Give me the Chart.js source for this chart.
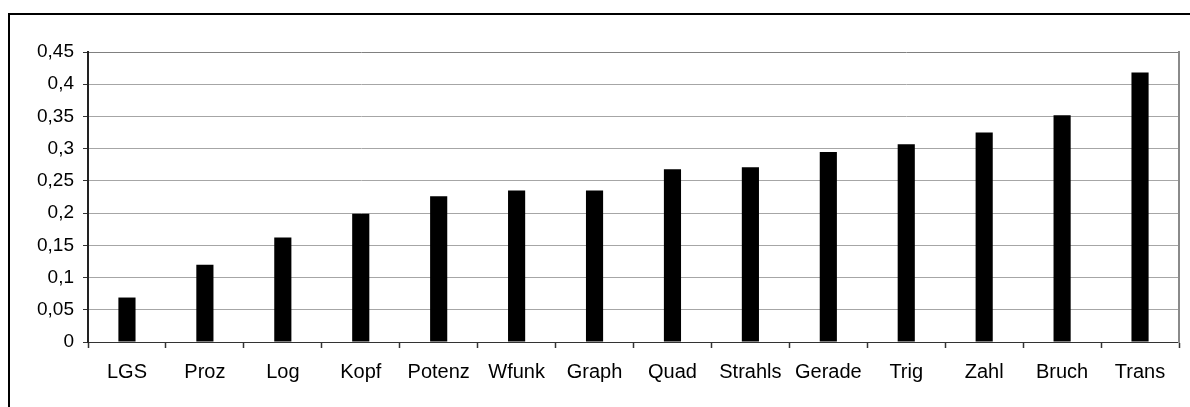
<!DOCTYPE html>
<html>
<head>
<meta charset="utf-8">
<script src="https://cdn.jsdelivr.net/npm/chart.js@4/dist/chart.umd.min.js"></script>
<style>
  html, body { margin: 0; padding: 0; background: #fff; overflow: hidden; }
  #wrap { position: relative; width: 1190px; height: 407px; overflow: hidden; }
  #frame {
    position: absolute; left: 8px; top: 13px; width: 1400px; height: 600px;
    border-left: 2px solid #000; border-top: 2px solid #000;
    pointer-events: none;
  }
  canvas { position: absolute; left: 0; top: 0; }
</style>
</head>
<body>
<div id="wrap">
  <canvas id="c" width="1190" height="407"></canvas>
  <div id="frame"></div>
</div>
<script>
// Topics, sorted by value
const categories = ['LGS', 'Proz', 'Log', 'Kopf', 'Potenz', 'Wfunk', 'Graph', 'Quad',
                    'Strahls', 'Gerade', 'Trig', 'Zahl', 'Bruch', 'Trans'];
const values = [0.069, 0.12, 0.162, 0.199, 0.226, 0.235, 0.235, 0.268,
                0.271, 0.295, 0.307, 0.325, 0.352, 0.418];
const yTickLabels = ['0', '0,05', '0,1', '0,15', '0,2', '0,25', '0,3', '0,35', '0,4', '0,45'];

const FONT = '"Liberation Sans", Arial, sans-serif';

new Chart(document.getElementById('c'), {
  type: 'bar',
  data: {
    labels: categories,
    datasets: [{
      data: values,
      backgroundColor: '#000',
      borderWidth: 0,
      barPercentage: 0.22,
      categoryPercentage: 1.0
    }]
  },
  options: {
    responsive: false,
    animation: false,
    events: [],
    layout: { padding: { left: 0, top: 52, right: 11, bottom: 0 } },
    plugins: { legend: { display: false }, tooltip: { enabled: false } },
    scales: {
      x: {
        offset: true,
        grid: {
          offset: true,
          drawOnChartArea: false,
          drawTicks: true,
          tickLength: 6,
          tickColor: '#333',
          tickWidth: 1.5
        },
        border: { display: true, color: '#333', width: 1 },
        ticks: {
          font: { family: FONT, size: 20 },
          color: '#000',
          padding: 12,
          maxRotation: 0,
          autoSkip: false
        },
        afterFit: (s) => { s.height = 65; }
      },
      y: {
        min: 0,
        max: 0.45,
        ticks: {
          stepSize: 0.05,
          font: { family: FONT, size: 19 },
          color: '#000',
          padding: 9,
          callback: (v, i) => yTickLabels[i]
        },
        grid: {
          color: (ctx) => (ctx.index === yTickLabels.length - 1 ? '#808080' : '#a6a6a6'),
          lineWidth: 1,
          tickLength: 5,
          tickColor: '#333'
        },
        border: { display: true, color: '#222', width: 2 },
        afterFit: (s) => { s.width = 88; }
      },
      yRight: {
        position: 'right',
        min: 0,
        max: 0.45,
        ticks: { display: false },
        grid: { drawOnChartArea: false, drawTicks: false },
        border: { display: true, color: '#8a8a8a', width: 2 },
        afterFit: (s) => { s.width = 0; }
      }
    }
  }
});
</script>
</body>
</html>
